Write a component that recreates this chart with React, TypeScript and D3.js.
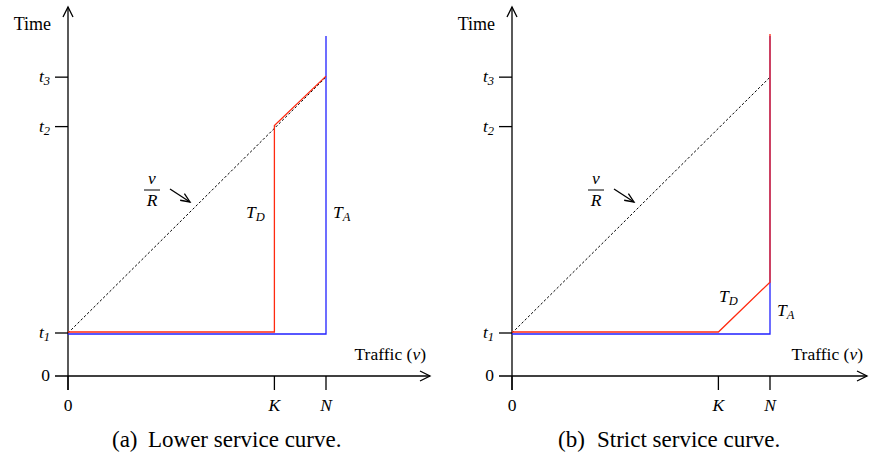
import React from "react";
import * as d3 from "d3";

// Abscissa marks (traffic) and ordinate marks (time), in model units
const xTickNames = ["0", "K", "N"];
const xTickValues = [0, 4, 5];
const yTickNames = ["0", "t1", "t2", "t3"];
const yTickValues = [0, 1, 5.8, 6.95];
const curveTop = 7.93;

// Arrival curve T_A and departure curves T_D for both service models
const arrivalX = [0, 5, 5];
const arrivalY = [1, 1, curveTop];
const lowerDepX = [0, 4, 4, 5];
const lowerDepY = [1, 1, 5.8, 6.95];
const strictDepX = [0, 4, 5, 5];
const strictDepY = [1, 1, 2.16, curveTop];
const rateLineX = [0, 5];
const rateLineY = [1, 6.95];

const SERIF = '"Liberation Serif", serif';
const fs = (size: number, italic = false): React.CSSProperties => ({
  fontFamily: SERIF,
  fontSize: `${size}px`,
  fontStyle: italic ? "italic" : "normal",
});

type PanelProps = {
  x0: number;
  axisEnd: number;
  depX: number[];
  depY: number[];
  tag: string;
  caption: string;
  tagX: number;
  captionX: number;
  tdPos: [number, number];
  taPos: [number, number];
  ratePos: [number, number];
  arrow: [number, number, number, number];
};

function Sub({ base, sub }: { base: string; sub: string }) {
  return (
    <>
      <tspan style={fs(17.5, true)}>{base}</tspan>
      <tspan style={fs(12.5, true)} dy={3}>{sub}</tspan>
    </>
  );
}

function Panel(p: PanelProps) {
  const x = d3.scaleLinear().domain([0, 5]).range([p.x0, p.x0 + 258]);
  const y = d3.scaleLinear().domain([0, 8]).range([376, 32]);
  const line = (xs: number[], ys: number[], dx = 0, dy = 0) =>
    d3
      .line<number>()
      .x((_, i) => x(xs[i]) + dx)
      .y((_, i) => y(ys[i]) + dy)(xs)!;
  const ox = x(0);
  const oy = y(0);
  const [ax1, ay1, ax2, ay2] = p.arrow;
  const ang = Math.atan2(ay2 - ay1, ax2 - ax1);
  const head = (len: number, a: number) =>
    `M${ax2 - len * Math.cos(ang - a)},${ay2 - len * Math.sin(ang - a)} L${ax2},${ay2} L${ax2 - len * Math.cos(ang + a)},${ay2 - len * Math.sin(ang + a)}`;
  return (
    <g fill="#000">
      {/* axes */}
      <line x1={ox} y1={oy + 14} x2={ox} y2={7} stroke="#000" strokeWidth={1.3} />
      <path d={`M${ox - 5},${17} L${ox},${7} L${ox + 5},${17}`} fill="none" stroke="#000" strokeWidth={1.3} />
      <line x1={ox - 13} y1={oy} x2={p.axisEnd} y2={oy} stroke="#000" strokeWidth={1.3} />
      <path d={`M${p.axisEnd - 10},${oy - 5} L${p.axisEnd},${oy} L${p.axisEnd - 10},${oy + 5}`} fill="none" stroke="#000" strokeWidth={1.3} />
      {/* y ticks */}
      {yTickValues.map((v, i) => (
        <g key={"y" + i}>
          {i > 0 && <line x1={ox - 13} x2={ox} y1={y(v)} y2={y(v)} stroke="#000" strokeWidth={1.3} />}
          <text x={ox - 18} y={y(v) + 5} textAnchor="end" style={fs(17.5)}>
            {i === 0 ? "0" : <Sub base="t" sub={yTickNames[i].slice(1)} />}
          </text>
        </g>
      ))}
      {/* x ticks */}
      {xTickValues.map((v, i) => (
        <g key={"x" + i}>
          <line x1={x(v)} x2={x(v)} y1={oy} y2={oy + 14} stroke="#000" strokeWidth={1.3} />
          <text x={x(v)} y={oy + 35} textAnchor="middle" style={fs(17.5, i > 0)}>
            {xTickNames[i]}
          </text>
        </g>
      ))}
      <text x={ox - 17} y={30} textAnchor="end" style={fs(18)}>Time</text>
      <text x={p.axisEnd - 4} y={360} textAnchor="end" style={fs(17.5)}>
        Traffic (<tspan style={fs(17.5, true)}>ν</tspan>)
      </text>
      {/* rate line */}
      <path d={line(rateLineX, rateLineY)} fill="none" stroke="#000" strokeWidth={1} strokeDasharray="2.5,2" />
      {/* curves */}
      <path d={line(arrivalX, arrivalY, 0, 1)} fill="none" stroke="#2020ff" strokeWidth={1.3} />
      <path d={line(p.depX, p.depY, 0, -1)} fill="none" stroke="#ff2a10" strokeWidth={1.3} />
      {/* labels */}
      <text x={p.tdPos[0]} y={p.tdPos[1]} style={fs(17.5)}>
        <Sub base="T" sub="D" />
      </text>
      <text x={p.taPos[0]} y={p.taPos[1]} style={fs(17.5)}>
        <Sub base="T" sub="A" />
      </text>
      <text x={p.ratePos[0]} y={p.ratePos[1]} textAnchor="middle" style={fs(17.5, true)}>ν</text>
      <line x1={p.ratePos[0] - 8} x2={p.ratePos[0] + 8} y1={p.ratePos[1] + 6} y2={p.ratePos[1] + 6} stroke="#000" strokeWidth={1} />
      <text x={p.ratePos[0]} y={p.ratePos[1] + 22} textAnchor="middle" style={fs(17.5, true)}>R</text>
      <line x1={ax1} y1={ay1} x2={ax2} y2={ay2} stroke="#000" strokeWidth={1.3} />
      <path d={head(10, 0.4)} fill="none" stroke="#000" strokeWidth={1.3} />
      <text x={p.tagX} y={447} style={fs(23)}>{p.tag}</text>
      <text x={p.captionX} y={447} style={fs(23)}>{p.caption}</text>
    </g>
  );
}

export default function App() {
  return (
    <svg width={869} height={459} style={{ position: "absolute", left: 0, top: 0, background: "#fff" }}>
      <rect width={869} height={459} fill="#fff" />
      <Panel
        x0={68}
        axisEnd={430}
        depX={lowerDepX}
        depY={lowerDepY}
        tag="(a)"
        caption="Lower service curve."
        tagX={112}
        captionX={148}
        tdPos={[246, 218]}
        taPos={[333, 218]}
        ratePos={[152, 184]}
        arrow={[170, 189, 190, 202]}
      />
      <Panel
        x0={512}
        axisEnd={867}
        depX={strictDepX}
        depY={strictDepY}
        tag="(b)"
        caption="Strict service curve."
        tagX={558}
        captionX={597}
        tdPos={[719, 302]}
        taPos={[777, 316]}
        ratePos={[596, 184]}
        arrow={[614, 189, 634, 202]}
      />
    </svg>
  );
}
